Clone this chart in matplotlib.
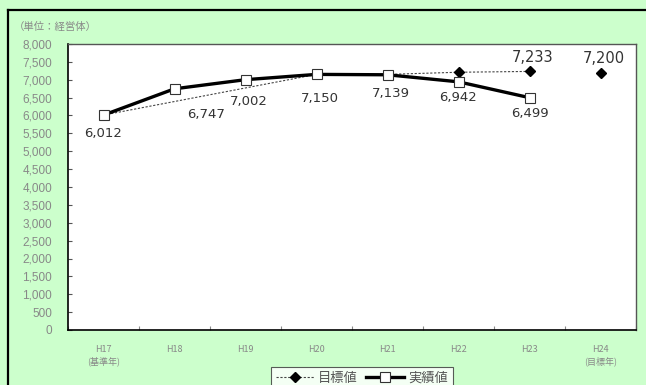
import matplotlib
matplotlib.use("Agg")
import matplotlib.pyplot as plt
from matplotlib.lines import Line2D
import numpy as np

plt.rcParams['font.family'] = ['Noto Sans CJK JP', 'DejaVu Sans']

categories = ["H17\n(基準年)", "H18", "H19", "H20", "H21", "H22", "H23", "H24\n(目標年)"]
actual = [6012, 6747, 7002, 7150, 7139, 6942, 6499, None]
target = [6012, None, None, 7150, 7150, 7210, 7233, 7200]
target_labels = {6: "7,233", 7: "7,200"}
yticks = list(range(0, 8001, 500))

fig = plt.figure(figsize=(6.46, 3.85), dpi=100)
fig.patch.set_facecolor('#ccffcc')

ax = fig.add_axes([68/646, 1 - 330/385, (636-68)/646, (330-44)/385])
ax.set_facecolor('white')

x = np.arange(len(categories))

# target line: connected H17..H23, H24 standalone
tx = [i for i, v in enumerate(target[:7]) if v is not None]
ty = [target[i] for i in tx]
ax.plot(tx, ty, color='#444444', lw=0.8, ls=(0, (2, 1.5)), zorder=2)
tmx = [i for i, v in enumerate(target) if v is not None and i >= 5]
ax.plot(tmx, [target[i] for i in tmx], ls='none', marker='D', ms=5,
        color='black', zorder=3)

ax_x = [i for i, v in enumerate(actual) if v is not None]
ax_y = [actual[i] for i in ax_x]
ax.plot(ax_x, ax_y, color='black', lw=2.4, marker='s', ms=7,
        mfc='white', mec='#333333', mew=0.8, zorder=4)

# data labels
offsets = {0: (0, -340), 1: (0.45, -530), 2: (0.04, -420), 3: (0.05, -490),
           4: (0.05, -340), 5: (0, -250), 6: (0.01, -255)}
for i in ax_x:
    dx, dy = offsets[i]
    ax.text(i + dx, actual[i] + dy, f"{actual[i]:,}", ha='center', va='top',
            fontsize=9.5, color='#333333', family=['DejaVu Sans'])
for i, s in target_labels.items():
    ax.text(i + 0.05, target[i] + 190, s, ha='center', va='bottom',
            fontsize=10.5, color='#333333', family=['DejaVu Sans'])

ax.set_xlim(-0.5, len(categories) - 0.5)
ax.set_ylim(0, 8000)
ax.set_yticks(yticks)
ax.set_yticklabels([f"{v:,}" for v in yticks], fontsize=8.5, color='#888888',
                   family=['Liberation Sans'])
ax.set_xticks(np.arange(len(categories) + 1) - 0.5)
ax.set_xticklabels([])
ax.set_xticks(x, minor=True)
ax.set_xticklabels(categories, minor=True, fontsize=6.5, color='#888888',
                   linespacing=1.3)
ax.tick_params(axis='x', which='minor', length=0, pad=11)
ax.tick_params(axis='x', which='major', direction='in', length=3, color='#888888')
ax.tick_params(axis='y', direction='in', length=3, color='#555555', pad=11.5)

for side in ['left', 'bottom']:
    ax.spines[side].set_color('black')
    ax.spines[side].set_linewidth(1.2)
for side in ['top', 'right']:
    ax.spines[side].set_color('#555555')
    ax.spines[side].set_linewidth(1.0)

fig.text(14/646, 1 - 27/385, "（単位：経営体）", fontsize=7.5, color='#888888',
         va='center', ha='left')

# outer frame lines
fig.add_artist(Line2D([8/646, 8/646], [0, 1 - 10/385], transform=fig.transFigure,
                      color='black', lw=1.6))
fig.add_artist(Line2D([8/646, 1], [1 - 10/385, 1 - 10/385], transform=fig.transFigure,
                      color='black', lw=1.6))

handles = [Line2D([], [], color='#444444', lw=0.8, ls=(0, (2, 1.5)), marker='D',
                  ms=5, mfc='black', mec='black'),
           Line2D([], [], color='black', lw=2.4, marker='s', ms=7,
                  mfc='white', mec='#333333', mew=0.8)]
leg = fig.legend(handles, ["目標値", "実績値"], loc='upper left',
                 bbox_to_anchor=(264/646, 1 - 360/385), ncol=2, fontsize=9.5,
                 frameon=True, fancybox=False, edgecolor='#333333',
                 handlelength=2.9, columnspacing=0.6, handletextpad=0.3,
                 borderpad=0.4, labelcolor='#555555')
leg.get_frame().set_linewidth(0.8)

fig.savefig("out.png", dpi=100, facecolor=fig.get_facecolor())
